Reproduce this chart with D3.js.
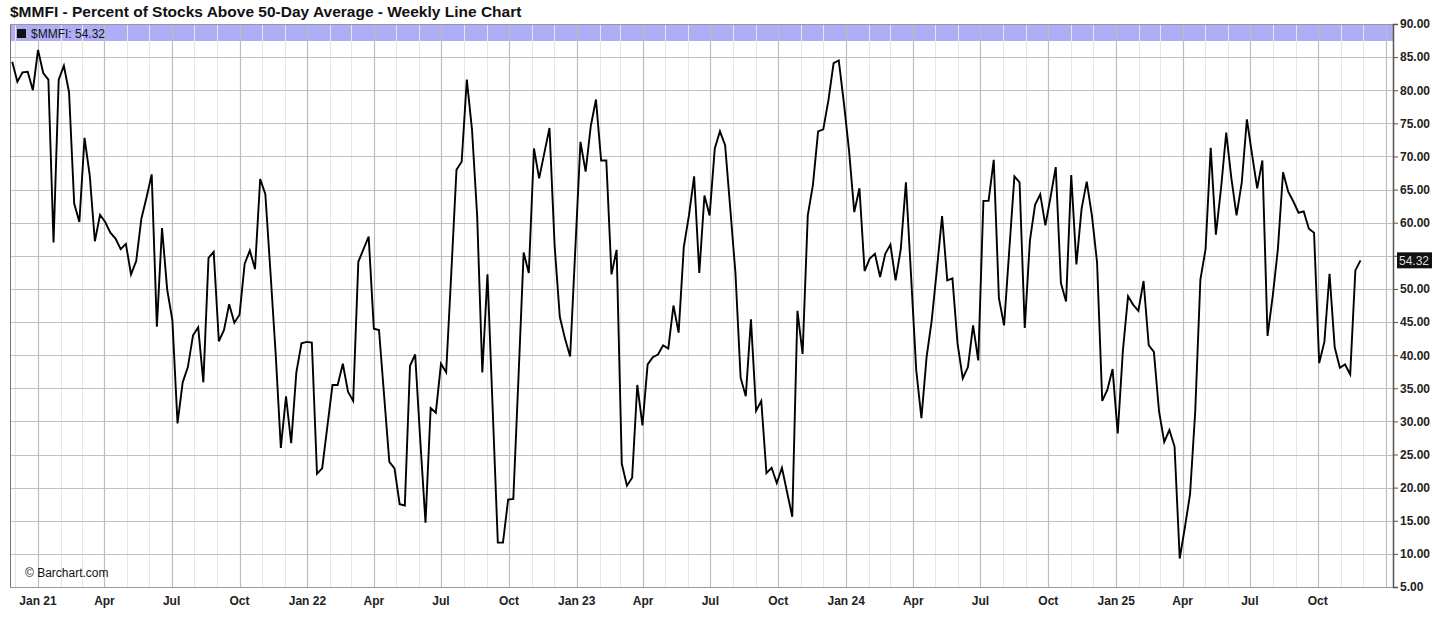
<!DOCTYPE html>
<html><head><meta charset="utf-8">
<script src="https://cdn.jsdelivr.net/npm/d3@7"></script>
<style>
body{margin:0;background:#fff;}
svg{display:block;font-family:"Liberation Sans",Arial,sans-serif;}
</style>
</head><body>
<svg id="chart" width="1456" height="619"></svg>
<script>
// ---------- data ----------
const title = "$MMFI - Percent of Stocks Above 50-Day Average - Weekly Line Chart";
const symbol = "$MMFI";
const firstWeek = "2020-11-27";          // first weekly close shown
const lastValue = 54.32;
const values = [
  84.3, 81.3, 82.7, 82.8, 80.0, 86.1, 82.6, 81.6, 57.0, 81.6,
  83.7, 79.7, 62.9, 60.1, 72.8, 67.2, 57.2, 61.2, 60.1, 58.5,
  57.6, 56.0, 56.8, 52.2, 54.2, 60.6, 63.8, 67.3, 44.3, 59.2,
  49.9, 45.3, 29.7, 35.9, 38.2, 43.0, 44.2, 35.9, 54.7, 55.6,
  42.1, 43.8, 47.7, 44.9, 46.1, 53.8, 55.8, 53.0, 66.6, 64.3,
  52.4, 40.2, 26.0, 33.8, 26.7, 37.4, 41.8, 42.0, 41.9, 22.1,
  22.9, 29.2, 35.5, 35.5, 38.7, 34.5, 33.1, 54.1, 56.0, 57.9,
  44.0, 43.8, 33.8, 23.9, 22.9, 17.5, 17.3, 38.4, 40.1, 27.0,
  14.7, 32.0, 31.3, 38.7, 37.4, 52.5, 68.0, 69.2, 81.6, 74.1,
  61.1, 37.4, 52.2, 32.0, 11.7, 11.7, 18.2, 18.3, 36.6, 55.5,
  52.4, 71.2, 66.7, 70.5, 74.3, 56.5, 45.8, 42.5, 39.8, 56.0,
  72.2, 67.7, 74.6, 78.6, 69.4, 69.4, 52.2, 55.9, 23.6, 20.3,
  21.5, 35.5, 29.4, 38.6, 39.7, 40.1, 41.5, 41.0, 47.5, 43.4,
  56.3, 61.1, 67.0, 52.4, 64.1, 61.1, 71.2, 73.8, 71.7, 62.1,
  52.4, 36.6, 33.8, 45.4, 31.6, 33.1, 22.2, 23.0, 20.7, 23.0,
  19.3, 15.6, 46.7, 40.2, 61.1, 65.7, 73.8, 74.1, 78.5, 84.1,
  84.5, 78.0, 70.8, 61.6, 65.2, 52.7, 54.6, 55.3, 51.8, 55.3,
  56.7, 51.3, 56.0, 66.1, 51.9, 37.7, 30.5, 39.7, 45.3, 53.0,
  61.0, 51.3, 51.6, 41.7, 36.5, 38.2, 44.5, 39.2, 63.3, 63.3,
  69.5, 48.6, 44.5, 55.8, 67.0, 66.1, 44.1, 57.3, 62.7, 64.3,
  59.6, 63.9, 68.4, 50.9, 48.1, 67.2, 53.7, 62.1, 66.2, 61.1,
  54.0, 33.1, 34.8, 37.9, 28.2, 40.7, 48.9, 47.6, 46.7, 51.2,
  41.5, 40.5, 31.5, 26.9, 28.7, 26.2, 9.3, 14.0, 19.0, 31.5,
  51.4, 56.0, 71.3, 58.2, 65.2, 73.6, 66.7, 61.1, 66.0, 75.6,
  70.3, 65.2, 69.4, 42.9, 48.9, 56.0, 67.6, 64.7, 63.2, 61.5,
  61.7, 59.1, 58.5, 38.8, 42.0, 52.3, 41.2, 38.1, 38.6, 37.1,
  52.8, 54.32
];
const yTicks = [5,10,15,20,25,30,35,40,45,50,55,60,65,70,75,80,85,90];
const xDomain = ["2020-11-24", "2026-01-11"];
const lastLabelDate = "2025-10-01";

// ---------- layout ----------
const L = 10, R = 1393, T = 24, B = 587;
const svg = d3.select("#chart");
const parse = d3.utcParse("%Y-%m-%d");
const start = parse(firstWeek);
const data = values.map((v, i) => ({date: d3.utcDay.offset(start, 7 * i), v}));

const x = d3.scaleUtc().domain(xDomain.map(parse)).range([L, R]);
const y = d3.scaleLinear().domain([5, 90]).range([B, T]);

// band
svg.append("rect").attr("x", L).attr("y", T + 1).attr("width", R - L).attr("height", 16)
  .attr("fill", "#aeaef6");

// grid: month lines
const months = d3.utcMonth.range(x.domain()[0], x.domain()[1]);
svg.append("g").selectAll("line").data(months.filter(d => d.getUTCMonth() % 3 !== 0)).join("line")
  .attr("x1", d => Math.round(x(d)) + 0.5).attr("x2", d => Math.round(x(d)) + 0.5)
  .attr("y1", T).attr("y2", B).attr("stroke", "#e6e6e6").attr("stroke-width", 1);
// horizontal grid
svg.append("g").selectAll("line").data(yTicks.filter(t => t > 5 && t < 90)).join("line")
  .attr("x1", L).attr("x2", R).attr("y1", d => Math.round(y(d)) + 0.5).attr("y2", d => Math.round(y(d)) + 0.5)
  .attr("stroke", "#c2c2c2").attr("stroke-width", 1);
// quarter lines
const quarters = months.filter(d => d.getUTCMonth() % 3 === 0);
svg.append("g").selectAll("line").data(quarters).join("line")
  .attr("x1", d => Math.round(x(d)) + 0.5).attr("x2", d => Math.round(x(d)) + 0.5)
  .attr("y1", T).attr("y2", B).attr("stroke", "#bdbdbd").attr("stroke-width", 1.2);

// frame
svg.append("line").attr("x1", L + 0.5).attr("x2", L + 0.5).attr("y1", T).attr("y2", B).attr("stroke", "#777");
svg.append("line").attr("x1", L).attr("x2", R).attr("y1", B + 0.5).attr("y2", B + 0.5).attr("stroke", "#999");
svg.append("line").attr("x1", L).attr("x2", R).attr("y1", T + 0.5).attr("y2", T + 0.5).attr("stroke", "#999");

// line
svg.append("path").datum(data)
  .attr("d", d3.line().x(d => x(d.date)).y(d => y(d.v)))
  .attr("fill", "none").attr("stroke", "#000").attr("stroke-width", 1.9).attr("stroke-linejoin", "miter");

// right axis (label hidden where the last-value tag sits)
const hiddenTick = 55;
const yAxis = d3.axisRight(y).tickValues(yTicks).tickSize(5)
  .tickFormat(d => d === hiddenTick ? "" : d3.format(".2f")(d));
const ya = svg.append("g").attr("transform", `translate(${R},0)`).call(yAxis);
ya.select(".domain").attr("stroke", "#555").attr("stroke-width", 1.5);
ya.selectAll(".tick line").attr("stroke", "#555");
ya.selectAll(".tick text").attr("x", 7).attr("font-size", 12).attr("font-weight", "bold")
  .attr("fill", "#222").attr("font-family", "Liberation Sans, Arial, sans-serif");

// last value tag
const ly = y(lastValue);
svg.append("rect").attr("x", R + 4).attr("y", ly - 8).attr("width", 35).attr("height", 16).attr("fill", "#111");
svg.append("text").attr("x", R + 6).attr("y", ly + 4.5).attr("font-size", 12).attr("fill", "#ddd")
  .text(d3.format(".2f")(lastValue));

// bottom axis labels
const fmt = d => d.getUTCMonth() === 0 ? d3.utcFormat("%b %y")(d) : d3.utcFormat("%b")(d);
svg.append("g").selectAll("text").data(quarters.filter(d => x(d) > L + 5 && d <= parse(lastLabelDate))).join("text")
  .attr("x", d => x(d)).attr("y", 605).attr("text-anchor", "middle")
  .attr("font-size", 12).attr("font-weight", "bold").attr("fill", "#222").text(fmt);

// title
svg.append("text").attr("x", 10).attr("y", 17).attr("font-size", 15.5).attr("font-weight", "bold")
  .attr("fill", "#111").attr("font-family", "Liberation Sans Narrow, Liberation Sans, Arial, sans-serif")
  .text(title);

// legend
svg.append("rect").attr("x", 17).attr("y", 29).attr("width", 9).attr("height", 9).attr("fill", "#111");
svg.append("text").attr("x", 31).attr("y", 38).attr("font-size", 12).attr("fill", "#111")
  .text(`${symbol}: ${d3.format(".2f")(lastValue)}`);

// watermark
svg.append("text").attr("x", 25).attr("y", 577).attr("font-size", 12).attr("fill", "#111")
  .text("© Barchart.com");
</script>
</body></html>
